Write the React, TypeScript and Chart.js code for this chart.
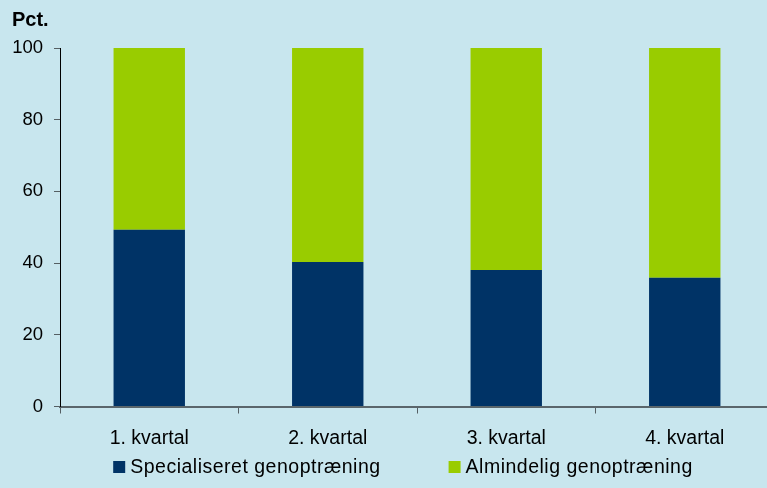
import React, { useEffect, useRef } from "react";
import { Chart, registerables } from "chart.js";

Chart.register(...registerables);

const categories = ["1. kvartal", "2. kvartal", "3. kvartal", "4. kvartal"];
const specialiseret = [49.3, 40.3, 38.1, 35.9];
const almindelig = [50.7, 59.7, 61.9, 64.1];
const seriesNames = ["Specialiseret genoptræning", "Almindelig genoptræning"];
const seriesColors = ["#003366", "#99cc00"];
const yTitle = "Pct.";

const BG = "#c8e6ee";
const FONT = "'Liberation Sans', Arial, sans-serif";
const LABEL_SIZE = 19.5;

export default function App() {
  const ref = useRef<HTMLCanvasElement | null>(null);

  useEffect(() => {
    if (!ref.current) return;
    const titlePlugin = {
      id: "yTitle",
      afterDraw(chart: any) {
        const ctx = chart.ctx;
        ctx.save();
        ctx.font = `bold 20px ${FONT}`;
        ctx.fillStyle = "#000";
        ctx.textAlign = "left";
        ctx.textBaseline = "alphabetic";
        ctx.fillText(yTitle, 12, 26);
        ctx.restore();
      },
    };
    const legendPlugin = {
      id: "customLegend",
      afterDraw(chart: any) {
        const ctx = chart.ctx;
        const ds = chart.data.datasets;
        ctx.save();
        ctx.font = `${LABEL_SIZE}px ${FONT}`;
        try {
          ctx.letterSpacing = "0.5px";
        } catch (e) {}
        const box = 12;
        const gapText = 5;
        const gapItems = 68;
        const widths = ds.map((d: any) => ctx.measureText(d.label).width);
        const total =
          widths.reduce((a: number, b: number) => a + b, 0) +
          ds.length * (box + gapText) +
          gapItems * (ds.length - 1);
        let x = 403 - total / 2;
        const cy = 467;
        ds.forEach((d: any, i: number) => {
          ctx.fillStyle = d.backgroundColor;
          ctx.fillRect(x, cy - box / 2, box, box);
          ctx.fillStyle = "#000";
          ctx.textAlign = "left";
          ctx.textBaseline = "middle";
          ctx.fillText(d.label, x + box + gapText, cy + 1);
          x += box + gapText + widths[i] + gapItems;
        });
        ctx.restore();
      },
    };
    const bgPlugin = {
      id: "bg",
      beforeDraw(chart: any) {
        const ctx = chart.ctx;
        ctx.save();
        ctx.fillStyle = BG;
        ctx.fillRect(0, 0, chart.width, chart.height);
        ctx.restore();
      },
    };
    const chart = new Chart(ref.current, {
      type: "bar",
      data: {
        labels: categories,
        datasets: [
          {
            label: seriesNames[0],
            data: specialiseret,
            backgroundColor: seriesColors[0],
            categoryPercentage: 0.8,
            barPercentage: 0.5,
          },
          {
            label: seriesNames[1],
            data: almindelig,
            backgroundColor: seriesColors[1],
            categoryPercentage: 0.8,
            barPercentage: 0.5,
          },
        ],
      },
      options: {
        responsive: false,
        animation: false,
        layout: { padding: { top: 48, left: 0, right: 2, bottom: 0 } },
        plugins: {
          legend: { display: false },
          tooltip: { enabled: false },
        },
        scales: {
          x: {
            stacked: true,
            offset: true,
            grid: {
              offset: true,
              drawOnChartArea: false,
              drawTicks: true,
              tickLength: 7,
              color: "#555f63",
            },
            border: { color: "#5a666b", width: 2 },
            ticks: {
              color: "#000",
              font: { family: FONT, size: LABEL_SIZE },
              padding: 13,
            },
            afterFit(scale: any) {
              scale.height = 81.5;
            },
          },
          y: {
            stacked: true,
            min: 0,
            max: 100,
            ticks: {
              stepSize: 20,
              color: "#000",
              font: { family: FONT, size: 18.5 },
              padding: 11,
            },
            grid: {
              drawOnChartArea: false,
              drawTicks: true,
              tickLength: 6,
              color: "#555f63",
            },
            border: { color: "#000", width: 1 },
            afterFit(scale: any) {
              scale.width = 60;
            },
          },
        },
      },
      plugins: [bgPlugin, titlePlugin, legendPlugin],
    });
    return () => chart.destroy();
  }, []);

  return (
    <div
      style={{
        position: "fixed",
        left: 0,
        top: 0,
        width: 767,
        height: 488,
        overflow: "hidden",
        background: BG,
      }}
    >
      <canvas ref={ref} width={776} height={488} style={{ display: "block" }} />
    </div>
  );
}
